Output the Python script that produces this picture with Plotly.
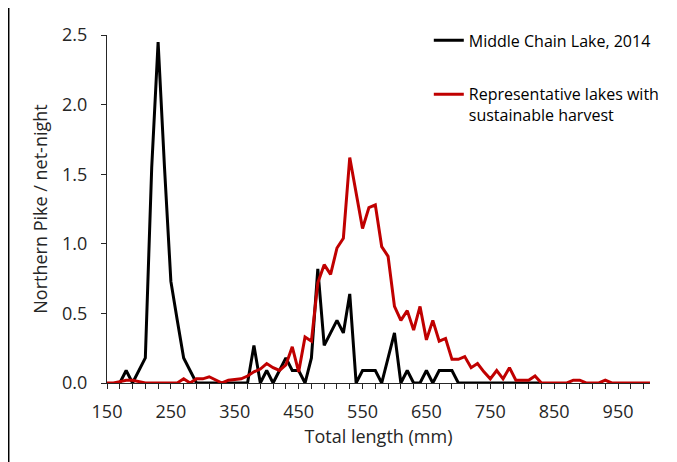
import plotly.graph_objects as go

# Total length bins (mm)
lengths_mcl = list(range(170, 840, 10))
lengths_rep = list(range(150, 1010, 10))

# Middle Chain Lake, 2014 (Northern Pike / net-night)
mcl_values = [
    0.00, 0.09, 0.00, 0.09, 0.18, 1.55, 2.45, 1.55, 0.73, 0.45,   # 170-260
    0.18, 0.09, 0.00, 0.00, 0.00, 0.00, 0.00, 0.00, 0.00, 0.00,   # 270-360
    0.00, 0.27, 0.00, 0.09, 0.00, 0.09, 0.18, 0.09, 0.09, 0.00,   # 370-460
    0.18, 0.82, 0.27, 0.36, 0.45, 0.36, 0.64, 0.00, 0.09, 0.09,   # 470-560
    0.09, 0.00, 0.18, 0.36, 0.00, 0.09, 0.00, 0.00, 0.09, 0.00,   # 570-660
    0.09, 0.09, 0.09, 0.00, 0.00, 0.00, 0.00, 0.00, 0.00, 0.00,   # 670-760
    0.00, 0.00, 0.00, 0.00, 0.00, 0.00, 0.00,                     # 770-830
]

# Representative lakes with sustainable harvest
rep_values = [
    0.00, 0.00, 0.01, 0.02, 0.02, 0.01, 0.00, 0.00, 0.00, 0.00,   # 150-240
    0.00, 0.00, 0.03, 0.00, 0.03, 0.03, 0.045, 0.02, 0.00, 0.02,  # 250-340
    0.025, 0.03, 0.05, 0.08, 0.10, 0.14, 0.11, 0.09, 0.13, 0.26,  # 350-440
    0.08, 0.33, 0.30, 0.72, 0.85, 0.78, 0.97, 1.04, 1.62, 1.37,   # 450-540
    1.11, 1.26, 1.28, 0.98, 0.91, 0.55, 0.45, 0.52, 0.38, 0.55,   # 550-640
    0.31, 0.45, 0.30, 0.32, 0.17, 0.17, 0.19, 0.11, 0.14, 0.08,   # 650-740
    0.03, 0.09, 0.03, 0.11, 0.02, 0.02, 0.02, 0.05, 0.00, 0.00,   # 750-840
    0.00, 0.00, 0.00, 0.02, 0.02, 0.00, 0.00, 0.00, 0.02, 0.00,   # 850-940
    0.00, 0.00, 0.00, 0.00, 0.00, 0.00, 0.00,                     # 950-1000
]

series_names = ["Middle Chain Lake, 2014",
                "Representative lakes with<br>sustainable harvest"]
series_colors = ["#000000", "#C00000"]

FONT = "Open Sans"

fig = go.Figure()
fig.add_trace(go.Scatter(
    x=lengths_mcl, y=mcl_values, mode="lines", name=series_names[0],
    line=dict(color=series_colors[0], width=3), legendgroup="a"))
fig.add_trace(go.Scatter(
    x=lengths_rep, y=rep_values, mode="lines", name=series_names[1],
    line=dict(color=series_colors[1], width=3), legendgroup="b"))

axis_color = "#262626"

# page body adds an 8px offset, so the figure is 669x454
fig.update_layout(
    width=669, height=454,
    margin=dict(l=99, r=27, t=27, b=79, autoexpand=False),
    paper_bgcolor="white", plot_bgcolor="white",
    font=dict(family=FONT, size=18, color="#262626"),
    showlegend=True,
    legend=dict(xref="container", yref="container",
                x=0.629, y=0.966, xanchor="left", yanchor="top",
                font=dict(family=FONT, size=16, color="#000000"),
                tracegroupgap=30, valign="top", itemwidth=30,
                traceorder="grouped", bgcolor="rgba(0,0,0,0)"),
    xaxis=dict(range=[150, 1000], tick0=150, dtick=100,
               automargin=False,
               showgrid=False, zeroline=False,
               showline=True, linecolor=axis_color, linewidth=1,
               ticks="outside", ticklen=5, tickcolor=axis_color,
               ticklabelstandoff=7,
               minor=dict(dtick=20, tick0=150, ticks="outside", ticklen=5,
                          tickcolor=axis_color, showgrid=False),
               title=dict(text="Total length (mm)", standoff=8,
                          font=dict(family=FONT, size=18))),
    yaxis=dict(range=[0, 2.5], dtick=0.5, tickformat=".1f",
               automargin=False,
               showgrid=False, zeroline=False,
               showline=True, linecolor=axis_color, linewidth=1,
               ticks="outside", ticklen=5, tickcolor=axis_color,
               ticklabelstandoff=10,
               title=dict(text="Northern Pike / net-night", standoff=9,
                          font=dict(family=FONT, size=18))),
)

# left frame line of the chart area
fig.add_shape(type="line", xref="paper", yref="paper",
              x0=-0.181, x1=-0.181, y0=-0.23, y1=1.08,
              line=dict(color="#000000", width=1.5))

fig.write_html("out.html")
